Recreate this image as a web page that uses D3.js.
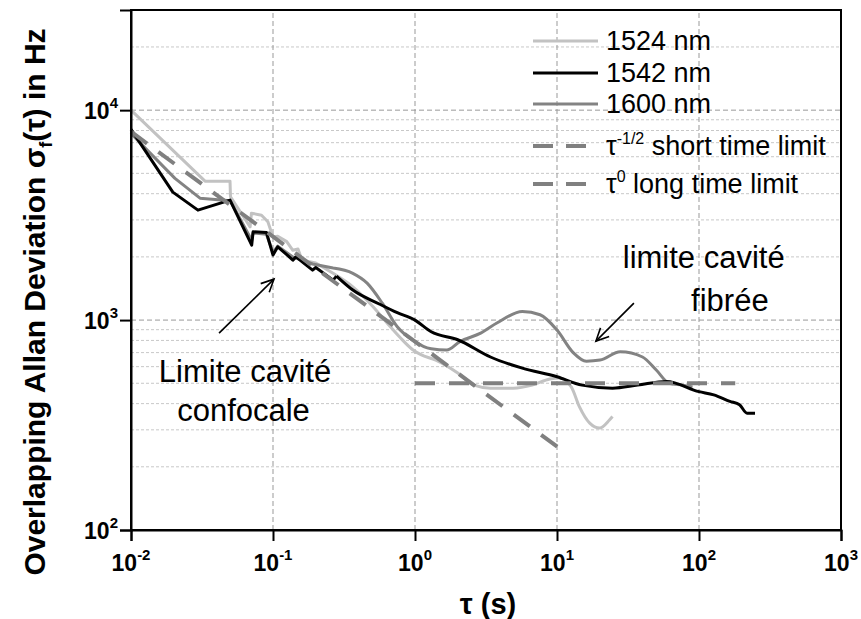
<!DOCTYPE html>
<html>
<head>
<meta charset="utf-8">
<script src="https://cdn.jsdelivr.net/npm/d3@7"></script>
<style>
  body { margin: 0; background: #fff; }
  text { font-family: "Liberation Sans", Arial, sans-serif; }
</style>
</head>
<body>
<div id="chart"></div>
<script>
// values (tau in s, sigma in Hz)
const tau1524 = [0.01, 0.0332, 0.0498, 0.0502, 0.069, 0.0705, 0.083, 0.092, 0.1, 0.108, 0.125, 0.138, 0.15, 0.16, 0.2, 0.265, 0.365, 0.505, 0.636, 0.78, 0.97, 1.1, 1.4, 2.0, 2.6, 3.4, 4.9, 6.7, 8.9, 10.4, 12.6, 14.4, 17, 20, 23.4, 24.6];
const sig1524 = [10000, 4590, 4590, 3870, 2780, 3230, 3160, 2940, 2490, 2510, 2365, 2150, 2180, 1930, 1870, 1670, 1440, 1160, 968, 830, 720, 684, 645, 560, 490, 474, 474, 490, 524, 530, 481, 386, 323, 306, 334, 347];

const tau1542 = [0.01, 0.0197, 0.0296, 0.0498, 0.0708, 0.0724, 0.09, 0.1, 0.108, 0.125, 0.138, 0.145, 0.19, 0.2, 0.265, 0.28, 0.365, 0.565, 0.75, 1.0, 1.3, 2.0, 3.4, 5.7, 10, 15, 24.6, 37, 59, 100, 127, 165, 193, 218, 248];
const sig1542 = [8100, 4070, 3340, 3730, 2275, 2634, 2610, 2040, 2235, 2050, 1930, 2000, 1730, 1780, 1550, 1620, 1390, 1190, 1084, 1000, 880, 806, 667, 590, 537, 490, 474, 490, 510, 456, 440, 410, 395, 360, 360];

const tau1600 = [0.01, 0.0204, 0.0306, 0.05, 0.0708, 0.0724, 0.09, 0.1, 0.108, 0.138, 0.19, 0.265, 0.365, 0.46, 0.59, 0.75, 0.97, 1.3, 1.67, 2.07, 2.9, 3.77, 5.7, 7.6, 10, 13, 16.1, 20.1, 27.9, 40, 50, 61.7, 77, 90];
const sig1600 = [7740, 4730, 3810, 3700, 2400, 2600, 2560, 2100, 2250, 2000, 1850, 1770, 1670, 1500, 1200, 930, 800, 730, 720, 790, 866, 968, 1100, 1060, 896, 700, 637, 645, 706, 667, 578, 500, 490, 480];

// limits
const tauShort = [0.01, 11];
const sigShortAt1 = 790;           // sigma = 790 * tau^-1/2
const tauLong = [1, 180];
const sigLong = 500;

const xMajor = [1e-2, 1e-1, 1e0, 1e1, 1e2, 1e3];
const xExp = ["-2", "-1", "0", "1", "2", "3"];
const yMajor = [1e2, 1e3, 1e4];
const yExp = ["2", "3", "4"];

const legendLabels = ["1524 nm", "1542 nm", "1600 nm"];

const width = 861, height = 619;
const svg = d3.select("#chart").append("svg")
    .attr("width", width)
    .attr("height", height);

const x = d3.scaleLog().domain([1e-2, 1e3]).range([131, 841]);
const y = d3.scaleLog().domain([1e2, 3e4]).range([530, 10]);

// minor values
const xMinor = [], yMinor = [];
d3.range(-2, 3).forEach(e => d3.range(2, 10).forEach(k => xMinor.push(k * Math.pow(10, e))));
d3.range(2, 5).forEach(e => d3.range(2, 10).forEach(k => { const v = k * Math.pow(10, e); if (v < 3e4) yMinor.push(v); }));

// grid
const grid = svg.append("g");
grid.selectAll(".hminor").data(yMinor).join("line")
    .attr("x1", x.range()[0]).attr("x2", x.range()[1])
    .attr("y1", d => y(d)).attr("y2", d => y(d))
    .attr("stroke", "#c8c8c8").attr("stroke-width", 1).attr("stroke-dasharray", "3,2");
grid.selectAll(".hmajor").data([1e3, 1e4]).join("line")
    .attr("x1", x.range()[0]).attr("x2", x.range()[1])
    .attr("y1", d => y(d)).attr("y2", d => y(d))
    .attr("stroke", "#999").attr("stroke-width", 1).attr("stroke-dasharray", "5,3");
grid.selectAll(".vmajor").data([1e-1, 1e0, 1e1, 1e2]).join("line")
    .attr("x1", d => x(d)).attr("x2", d => x(d))
    .attr("y1", y.range()[0]).attr("y2", y.range()[1])
    .attr("stroke", "#999").attr("stroke-width", 1).attr("stroke-dasharray", "5,3");

// data lines: straight segments for the noisy short-tau part, smooth after
const linLine = d3.line().x(d => x(d[0])).y(d => y(d[1]));
const smoothLine = d3.line().x(d => x(d[0])).y(d => y(d[1])).curve(d3.curveMonotoneX);
function seriesPath(s) {
    const pts = s.tau.map((t, i) => [t, s.sig[i]]);
    const k = pts.findIndex(p => p[0] > 0.3);
    return linLine(pts.slice(0, k)) + smoothLine(pts.slice(k - 1));
}
const series = [
    {tau: tau1524, sig: sig1524, color: "#c2c2c2"},
    {tau: tau1600, sig: sig1600, color: "#838383"},
    {tau: tau1542, sig: sig1542, color: "#000"}
];
svg.append("g").selectAll("path").data(series).join("path")
    .attr("d", seriesPath)
    .attr("fill", "none")
    .attr("stroke", s => s.color)
    .attr("stroke-width", 3)
    .attr("stroke-linejoin", "round");

// dashed limits
const limits = [
    tauShort.map(t => [t, sigShortAt1 / Math.sqrt(t)]),
    tauLong.map(t => [t, sigLong])
];
svg.append("g").selectAll("path").data(limits).join("path")
    .attr("d", linLine)
    .attr("fill", "none")
    .attr("stroke", "#808080")
    .attr("stroke-width", 4)
    .attr("stroke-dasharray", "20,14");

// frame
svg.append("rect")
    .attr("x", 131).attr("y", 10)
    .attr("width", 710).attr("height", 520)
    .attr("fill", "none").attr("stroke", "#000").attr("stroke-width", 2);

// axes
const xAx = svg.append("g").attr("transform", "translate(0,530)");
xAx.call(d3.axisBottom(x).tickValues(xMinor).tickSize(7).tickFormat(""));
xAx.call(d3.axisBottom(x).tickValues(xMajor).tickSize(11).tickFormat(""));
const yAx = svg.append("g").attr("transform", "translate(131,0)");
yAx.call(d3.axisLeft(y).tickValues(yMinor).tickSize(6).tickFormat(""));
yAx.call(d3.axisLeft(y).tickValues(yMajor).tickSize(11).tickFormat(""));
svg.selectAll(".domain").attr("stroke-width", 2);
svg.selectAll(".tick line").attr("stroke-width", 2);

// tick labels with exponents
const xl = svg.append("g").selectAll("text").data(xMajor).join("text")
    .attr("x", d => x(d)).attr("y", 571)
    .attr("text-anchor", "middle")
    .attr("font-weight", "bold").attr("font-size", 23);
xl.append("tspan").text("10");
xl.append("tspan").attr("dy", -11).attr("font-size", 15).text((d, i) => xExp[i]);

const yl = svg.append("g").selectAll("text").data(yMajor).join("text")
    .attr("x", 118).attr("y", d => y(d) + 9)
    .attr("text-anchor", "end")
    .attr("font-weight", "bold").attr("font-size", 23);
yl.append("tspan").text("10");
yl.append("tspan").attr("dy", -11).attr("font-size", 15).text((d, i) => yExp[i]);

// axis titles
const xt = svg.append("text")
    .attr("x", 488).attr("y", 614)
    .attr("text-anchor", "middle")
    .attr("font-weight", "bold").attr("font-size", 29);
xt.append("tspan").text("\u03c4 (s)");

const yt = svg.append("text")
    .attr("transform", "translate(45,302) rotate(-90)")
    .attr("text-anchor", "middle")
    .attr("font-weight", "bold").attr("font-size", 30);
yt.append("tspan").text("Overlapping Allan Deviation \u03c3");
yt.append("tspan").attr("font-size", 18).attr("dy", 7).text("f");
yt.append("tspan").attr("dy", -7).text("(\u03c4) in Hz");

// legend
const lg = svg.append("g").attr("font-size", 27);
const legendColors = ["#c2c2c2", "#000", "#838383"];
const legendY = [41, 73, 104];
legendLabels.forEach((lab, i) => {
    lg.append("line").attr("x1", 533).attr("x2", 598)
        .attr("y1", legendY[i]).attr("y2", legendY[i])
        .attr("stroke", legendColors[i]).attr("stroke-width", 3);
    lg.append("text").attr("x", 606).attr("y", legendY[i] + 9).text(lab);
});
[146, 184].forEach(ly => {
    lg.append("line").attr("x1", 533).attr("x2", 598)
        .attr("y1", ly).attr("y2", ly)
        .attr("stroke", "#808080").attr("stroke-width", 4)
        .attr("stroke-dasharray", "20,13");
});
const l4 = lg.append("text").attr("x", 606).attr("y", 155);
l4.append("tspan").text("\u03c4");
l4.append("tspan").attr("dy", -11).attr("font-size", 16).text("-1/2");
l4.append("tspan").attr("dy", 11).text(" short time limit");
const l5 = lg.append("text").attr("x", 606).attr("y", 193);
l5.append("tspan").text("\u03c4");
l5.append("tspan").attr("dy", -11).attr("font-size", 16).text("0");
l5.append("tspan").attr("dy", 11).text(" long time limit");

// annotations (positions in data space)
const notes = [
    {lines: ["Limite cavit\u00e9", "confocale"], tau: [0.0635, 0.062], sig: [505, 330]},
    {lines: ["limite cavit\u00e9", "fibr\u00e9e"], tau: [108, 165], sig: [1770, 1110]}
];
notes.forEach(n => {
    n.lines.forEach((t, i) => {
        svg.append("text")
            .attr("x", x(n.tau[i])).attr("y", y(n.sig[i]))
            .attr("text-anchor", "middle")
            .attr("font-family", "Lato, 'Open Sans', sans-serif")
            .attr("font-size", 31)
            .text(t);
    });
});

const arrows = [
    {from: [0.0417, 867], to: [0.1016, 1567]},
    {from: [34.8, 1205], to: [18.8, 794]}
];
arrows.forEach(a => {
    const x0 = x(a.from[0]), y0 = y(a.from[1]), x1 = x(a.to[0]), y1 = y(a.to[1]);
    const ang = Math.atan2(y1 - y0, x1 - x0);
    const hl = 14, ha = 0.45;
    const g = svg.append("g").attr("stroke", "#000").attr("stroke-width", 1.6).attr("fill", "none");
    g.append("line").attr("x1", x0).attr("y1", y0).attr("x2", x1).attr("y2", y1);
    g.append("polyline").attr("points", [
        [x1 - hl * Math.cos(ang - ha), y1 - hl * Math.sin(ang - ha)],
        [x1, y1],
        [x1 - hl * Math.cos(ang + ha), y1 - hl * Math.sin(ang + ha)]
    ].map(p => p.join(",")).join(" "));
});
</script>
</body>
</html>
